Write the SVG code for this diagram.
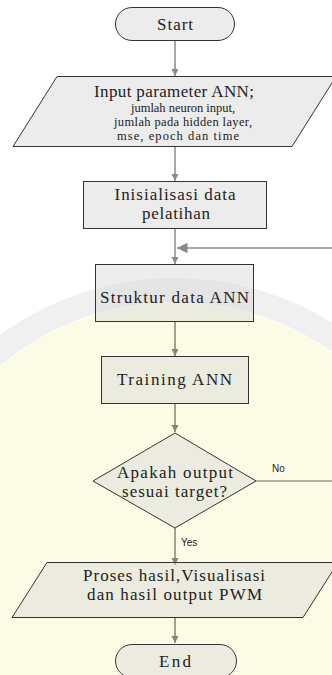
<svg xmlns="http://www.w3.org/2000/svg" width="332" height="675" viewBox="0 0 332 675">
<style>
.node{stroke:#333;stroke-width:1;}
.gray{fill:#ececec;}
.tint{fill:#d8d8d8;fill-opacity:0.45;}
.t{font-family:"Liberation Serif","Times New Roman",serif;fill:#222;text-anchor:middle;}
.big{font-size:17px;}
.small{font-size:12.5px;}
.lbl{font-family:"Liberation Sans",Arial,sans-serif;font-size:10px;fill:#222;}
.con{fill:none;stroke:#8a8a8a;stroke-width:1.5;}
.con2{fill:none;stroke:#86866e;stroke-width:1.5;}
.back{fill:none;stroke:#666;stroke-width:1;}
</style>
<defs>
<marker id="ah" viewBox="0 0 8 8" refX="8" refY="4" markerWidth="5" markerHeight="5" orient="auto" markerUnits="strokeWidth">
<path d="M0,0 L8,4 L0,8 z" fill="#8a8a8a"/>
</marker>
<marker id="ah2" viewBox="0 0 8 8" refX="8" refY="4" markerWidth="5" markerHeight="5" orient="auto" markerUnits="strokeWidth">
<path d="M0,0 L8,4 L0,8 z" fill="#86866e"/>
</marker>
<marker id="ah3" viewBox="0 0 8 8" refX="8" refY="4" markerWidth="7" markerHeight="7" orient="auto" markerUnits="strokeWidth">
<path d="M0,0 L8,4 L0,8 z" fill="#8a8a8a"/>
</marker>
</defs>
<rect x="0" y="0" width="332" height="675" fill="#ffffff"/>
<g id="watermark">
<circle cx="175" cy="575" r="272" fill="#fcfbe6"/>
<circle cx="175" cy="575" r="285" fill="none" stroke="#f0f0f0" stroke-width="24"/>
</g>
<g id="connectors">
<path class="con" d="M175,41 V76" marker-end="url(#ah)"/>
<path class="con" d="M175,146 V181" marker-end="url(#ah)"/>
<path class="con" d="M175,229 V264" marker-end="url(#ah)"/>
<path class="con2" d="M175,322 V356" marker-end="url(#ah2)"/>
<path class="con2" d="M175,403 V432" marker-end="url(#ah2)"/>
<path class="con2" d="M175,528 V565" marker-end="url(#ah2)"/>
<path class="con2" d="M175,618 V643" marker-end="url(#ah2)"/>
<path class="back" d="M256,481 H340"/>
<path class="con" d="M340,248 H177" stroke-width="1" marker-end="url(#ah3)"/>
<text class="lbl" x="272" y="472">No</text>
<text class="lbl" x="181" y="546">Yes</text>
</g>
<g id="start">
<rect class="node gray" x="115.5" y="7.5" width="119" height="33" rx="16.5"/>
<text class="t big" x="175" y="30" textLength="36" lengthAdjust="spacing">Start</text>
</g>
<g id="input">
<polygon class="node gray" points="57,76.5 336,76.5 292,146.5 13,146.5"/>
<text class="t big" x="174" y="97" textLength="160" lengthAdjust="spacing">Input parameter ANN;</text>
<text class="t small" x="183" y="112" textLength="104" lengthAdjust="spacing">jumlah neuron input,</text>
<text class="t small" x="183" y="126" textLength="138" lengthAdjust="spacing">jumlah pada hidden layer,</text>
<text class="t small" x="178" y="140" textLength="122" lengthAdjust="spacing">mse, epoch dan time</text>
</g>
<g id="init">
<rect class="node gray" x="83.5" y="181.5" width="183" height="47"/>
<text class="t big" x="175" y="200" textLength="121" lengthAdjust="spacing">Inisialisasi data</text>
<text class="t big" x="176" y="219" textLength="68" lengthAdjust="spacing">pelatihan</text>
</g>
<g id="struktur">
<rect class="node tint" x="95.5" y="264.5" width="158" height="57"/>
<text class="t big" x="174.5" y="303" textLength="149" lengthAdjust="spacing">Struktur data ANN</text>
</g>
<g id="training">
<rect class="node tint" x="101.5" y="356.5" width="147" height="47"/>
<text class="t big" x="174.5" y="385" textLength="115" lengthAdjust="spacing">Training ANN</text>
</g>
<g id="decision">
<polygon class="node tint" points="175,433 256,481 175,528 93,481"/>
<text class="t big" x="175" y="478" textLength="116" lengthAdjust="spacing">Apakah output</text>
<text class="t big" x="174.5" y="497" textLength="105" lengthAdjust="spacing">sesuai target?</text>
</g>
<g id="proses">
<polygon class="node tint" points="47,562.5 338,562.5 303,617.5 12,617.5"/>
<text class="t big" x="174" y="581" textLength="182" lengthAdjust="spacing">Proses hasil,Visualisasi</text>
<text class="t big" x="174.5" y="600" textLength="175" lengthAdjust="spacing">dan hasil output PWM</text>
</g>
<g id="end">
<rect class="node tint" x="115.5" y="644.5" width="121" height="33" rx="16.5"/>
<text class="t big" x="175" y="667" textLength="32" lengthAdjust="spacing">End</text>
</g>
</svg>
